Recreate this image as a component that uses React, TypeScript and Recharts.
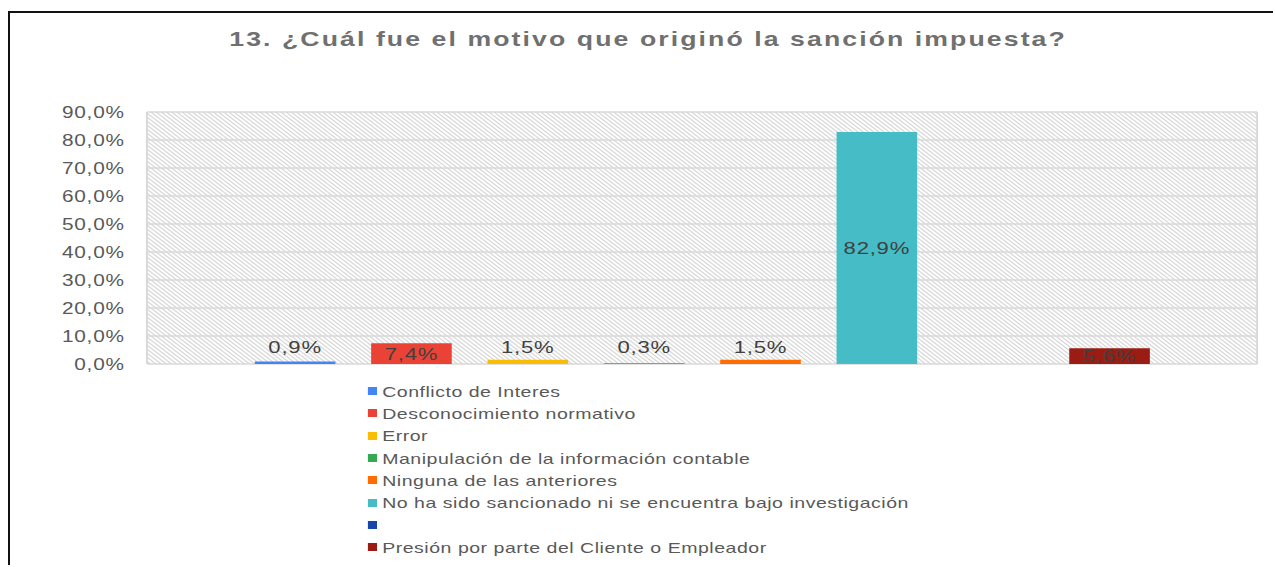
import React from 'react';
import { BarChart, Bar, XAxis, YAxis, CartesianGrid, LabelList, Legend } from 'recharts';

const categories = ['Motivo'];
const seriesNames = [
  'Conflicto de Interes',
  'Desconocimiento normativo',
  'Error',
  'Manipulación de la información contable',
  'Ninguna de las anteriores',
  'No ha sido sancionado ni se encuentra bajo investigación',
  '',
  'Presión por parte del Cliente o Empleador',
];
const seriesValues: (number | null)[] = [0.9, 7.4, 1.5, 0.3, 1.5, 82.9, null, 5.6];
const seriesColors = ['#4285f4', '#ea4335', '#fbbc04', '#34a853', '#ff6d01', '#46bdc6', '#1747a6', '#9b1c13'];
const yTicks = [0, 10, 20, 30, 40, 50, 60, 70, 80, 90];
const titleText = '13. ¿Cuál fue el motivo que originó la sanción impuesta?';

const data = categories.map((c) => {
  const row: Record<string, any> = { category: c };
  seriesValues.forEach((v, i) => {
    row['s' + i] = v;
  });
  return row;
});

const FONT = '"Liberation Sans", Arial, Helvetica, sans-serif';
const SX = 1.3;
const W = 980;
const H = 565;

const fmt = (v: number) => v.toFixed(1).replace('.', ',') + '%';

const DataLabel = (props: any) => {
  const { x, y, width, height, value } = props;
  if (value === null || value === undefined) return null;
  const nx = Number(x), ny = Number(y), nw = Number(width), nh = Number(height);
  const base = ny + nh;
  const cy = nh < 12 ? base - 17 : ny + nh / 2;
  return (
    <text
      x={nx + nw / 2}
      y={cy}
      dy="0.35em"
      textAnchor="middle"
      fill="#404040"
      fontSize={17}
      fontFamily={FONT}
      letterSpacing={0.6}
    >
      {fmt(Number(value))}
    </text>
  );
};

const LegendContent = () => (
  <div style={{ fontFamily: FONT, fontSize: 15, letterSpacing: 0.4, color: '#595959' }}>
    {seriesNames.map((n, i) => (
      <div key={i} style={{ height: 22.3, display: 'flex', alignItems: 'center', whiteSpace: 'nowrap' }}>
        <span
          style={{
            display: 'inline-block',
            width: 7,
            height: 8,
            background: seriesColors[i],
            marginRight: 4,
          }}
        />
        <span>{n}</span>
      </div>
    ))}
  </div>
);

export default function App() {
  return (
    <div>
      <div
        style={{
          position: 'absolute',
          left: 8,
          top: 11,
          width: 1265,
          height: 554,
          borderTop: '2px solid #111',
          borderLeft: '2px solid #111',
          boxSizing: 'border-box',
        }}
      />
      <div
        style={{
          position: 'absolute',
          left: 0,
          top: 0,
          width: W,
          height: H,
          transform: `scaleX(${SX})`,
          transformOrigin: '0 0',
        }}
      >
        <div
          style={{
            position: 'absolute',
            left: 0,
            width: 997,
            top: 29,
            textAlign: 'center',
            fontFamily: FONT,
            fontWeight: 'bold',
            fontSize: 20.5,
            lineHeight: '20px',
            letterSpacing: 1.6,
            color: '#707070',
            whiteSpace: 'nowrap',
          }}
        >
          {titleText}
        </div>
        <BarChart
          width={W}
          height={H}
          data={data}
          margin={{ top: 112, right: 12, bottom: 201, left: 0 }}
          barCategoryGap={83}
          barGap={27.5}
        >
          <defs>
            <pattern id="hatch" patternUnits="userSpaceOnUse" width="4" height="4">
              <rect width="4" height="4" fill="#ffffff" />
              <path d="M-1,-1 L5,5 M3,-1 L5,1 M-1,3 L1,5" stroke="#d4d4d4" strokeWidth="1" />
            </pattern>
          </defs>
          <CartesianGrid
            vertical={false}
            stroke="#d9d9d9"
            strokeWidth={1.4}
            fill="url(#hatch)"
            fillOpacity={1}
          />
          <XAxis dataKey="category" hide />
          <YAxis
            domain={[0, 90]}
            ticks={yTicks}
            width={113}
            tickSize={0}
            tickMargin={17}
            tickLine={false}
            axisLine={{ stroke: '#d9d9d9', strokeWidth: 1.5 }}
            tickFormatter={fmt}
            tick={{ fill: '#595959', fontSize: 16, fontFamily: FONT, letterSpacing: 0.6 }}
            interval={0}
          />
          <YAxis
            yAxisId="r"
            orientation="right"
            domain={[0, 90]}
            width={1}
            tick={false}
            tickLine={false}
            axisLine={{ stroke: '#d9d9d9', strokeWidth: 1.5 }}
          />
          <Legend
            layout="vertical"
            align="center"
            verticalAlign="middle"
            content={<LegendContent />}
            wrapperStyle={{ position: 'absolute', left: 283, top: 380, width: 'auto' }}
          />
          {seriesNames.map((n, i) => (
            <Bar
              key={i}
              dataKey={'s' + i}
              name={n}
              fill={seriesColors[i]}
              isAnimationActive={false}
            >
              <LabelList dataKey={'s' + i} content={<DataLabel />} />
            </Bar>
          ))}
        </BarChart>
      </div>
    </div>
  );
}
